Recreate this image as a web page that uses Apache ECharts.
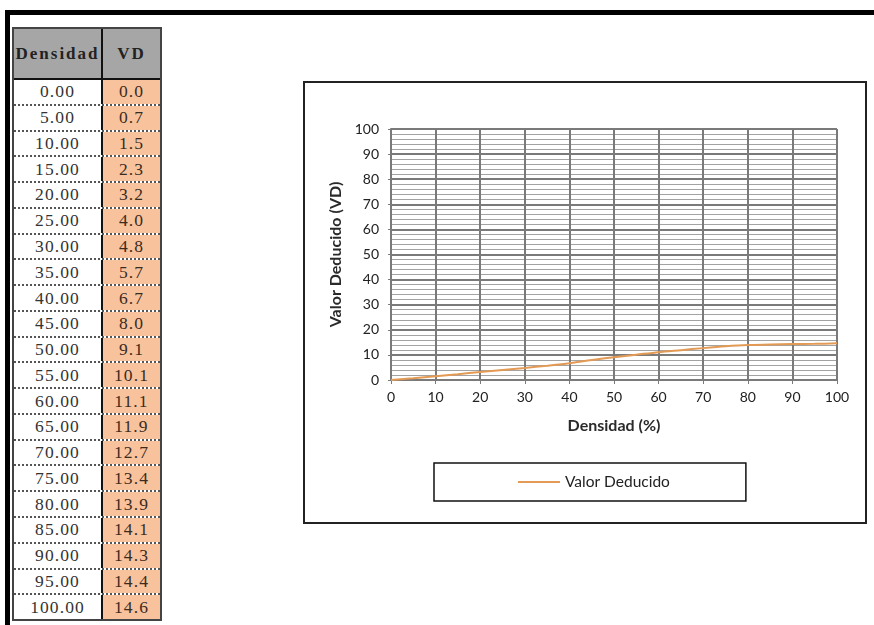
<!DOCTYPE html>
<html>
<head>
<meta charset="utf-8">
<script src="https://cdn.jsdelivr.net/npm/echarts@6/dist/echarts.min.js"></script>
<style>
  html, body { margin:0; padding:0; background:#fff; width:874px; height:625px; overflow:hidden; position:relative; }
  .frameTop { position:absolute; left:5px; top:10px; width:869px; height:5px; background:#000; }
  .frameLeft { position:absolute; left:5px; top:10px; width:5px; height:615px; background:#000; }
  #tbl { position:absolute; left:12px; top:27px; width:150px; height:594px; box-sizing:border-box;
         border:2px solid #444; display:flex; flex-direction:column; font-family:"Liberation Serif","DejaVu Serif",serif; }
  .hdr { height:51px; flex:none; display:flex; background:#a6a6a6; border-bottom:2px solid #111; box-sizing:border-box; }
  .row { flex:1; display:flex; border-bottom:2px dotted #555; }
  .row:last-child { border-bottom:none; }
  .c1 { width:87px; flex:none; border-right:2px solid #111; display:flex; align-items:center; justify-content:center; background:#fff; color:#333; font-size:17.5px; letter-spacing:1.1px; }
  .c2 { flex:1; display:flex; align-items:center; justify-content:center; background:#f8c39c; color:#3b2b1f; font-size:17.5px; letter-spacing:1.1px; }
  .hdr .c1, .hdr .c2 { background:#a6a6a6; font-weight:bold; color:#222; letter-spacing:2px; font-size:17px; }
  #chart { position:absolute; left:303px; top:81px; width:560px; height:439px; border:2px solid #222; background:#fff; }
</style>
</head>
<body>
<div class="frameTop"></div>
<div class="frameLeft"></div>
<div id="tbl"></div>
<div id="chart"></div>
<script>
// Data
const densidad = [0, 5, 10, 15, 20, 25, 30, 35, 40, 45, 50, 55, 60, 65, 70, 75, 80, 85, 90, 95, 100];
const vd = [0.0, 0.7, 1.5, 2.3, 3.2, 4.0, 4.8, 5.7, 6.7, 8.0, 9.1, 10.1, 11.1, 11.9, 12.7, 13.4, 13.9, 14.1, 14.3, 14.4, 14.6];
const headers = ["Densidad", "VD"];
const seriesName = "Valor Deducido";
const xAxisTitle = "Densidad (%)";
const yAxisTitle = "Valor Deducido (VD)";

// Table
const tbl = document.getElementById('tbl');
let html = '<div class="hdr"><div class="c1">' + headers[0] + '</div><div class="c2">' + headers[1] + '</div></div>';
for (let i = 0; i < densidad.length; i++) {
  html += '<div class="row"><div class="c1">' + densidad[i].toFixed(2) + '</div><div class="c2">' + vd[i].toFixed(1) + '</div></div>';
}
tbl.innerHTML = html;

// Chart
const chart = echarts.init(document.getElementById('chart'), null, { renderer: 'canvas' });
const font = 'Lato, "Open Sans", sans-serif';
chart.setOption({
  animation: false,
  grid: { left: 86, top: 46, right: 28, bottom: 142 },
  legend: {
    data: [{ name: seriesName, icon: 'rect' }],
    left: 129, top: 380,
    padding: [11, 76, 11, 84],
    borderColor: '#111', borderWidth: 1.5,
    itemWidth: 42, itemHeight: 2,
    textStyle: { fontFamily: font, fontSize: 15.5, color: '#222', lineHeight: 14 }
  },
  xAxis: {
    type: 'value', min: 0, max: 100, interval: 10,
    name: xAxisTitle, nameLocation: 'middle', nameGap: 38,
    nameTextStyle: { fontFamily: font, fontWeight: 'bold', fontSize: 16, color: '#2a2a2a' },
    axisLine: { show: true, lineStyle: { color: '#7a7a7a', width: 2 } },
    axisTick: { show: true, length: 4, lineStyle: { color: '#7a7a7a' } },
    axisLabel: { fontFamily: font, fontSize: 14, color: '#222', margin: 10 },
    splitLine: { show: true, lineStyle: { color: '#7a7a7a', width: 2 } }
  },
  yAxis: {
    type: 'value', min: 0, max: 100, interval: 10,
    name: yAxisTitle, nameLocation: 'middle', nameGap: 42,
    nameTextStyle: { fontFamily: font, fontWeight: 'bold', fontSize: 16, color: '#2a2a2a' },
    axisLine: { show: true, lineStyle: { color: '#7a7a7a', width: 2 } },
    axisTick: { show: true, length: 3, lineStyle: { color: '#7a7a7a' } },
    axisLabel: { fontFamily: font, fontSize: 14, color: '#222', margin: 12 },
    splitLine: { show: true, lineStyle: { color: '#7a7a7a', width: 2 } },
    minorTick: { show: false, splitNumber: 5 },
    minorSplitLine: { show: true, lineStyle: { color: '#a3a3a3', width: 1.2 } }
  },
  series: [{
    name: seriesName, type: 'line',
    data: densidad.map((d, i) => [d, vd[i]]),
    symbol: 'none', smooth: 0.3,
    color: '#e39a55',
    lineStyle: { color: '#e39a55', width: 2 }
  }]
});
</script>
</body>
</html>
